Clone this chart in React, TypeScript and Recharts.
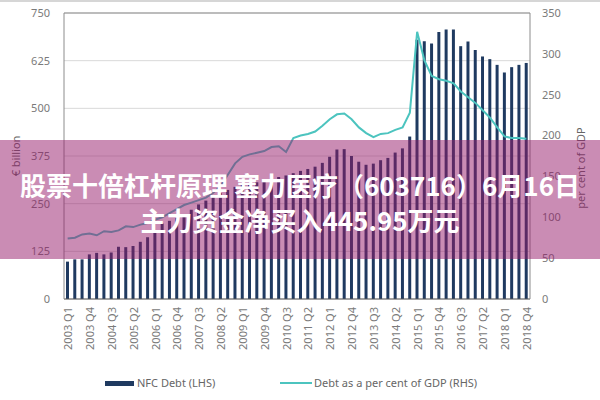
import React from 'react'
import {
  ComposedChart, Bar, Line, XAxis, YAxis, CartesianGrid, ReferenceLine
} from 'recharts'

// 2003 Q1 .. 2018 Q4
const quarters = [
  '2003 Q1', '2003 Q2', '2003 Q3', '2003 Q4',
  '2004 Q1', '2004 Q2', '2004 Q3', '2004 Q4',
  '2005 Q1', '2005 Q2', '2005 Q3', '2005 Q4',
  '2006 Q1', '2006 Q2', '2006 Q3', '2006 Q4',
  '2007 Q1', '2007 Q2', '2007 Q3', '2007 Q4',
  '2008 Q1', '2008 Q2', '2008 Q3', '2008 Q4',
  '2009 Q1', '2009 Q2', '2009 Q3', '2009 Q4',
  '2010 Q1', '2010 Q2', '2010 Q3', '2010 Q4',
  '2011 Q1', '2011 Q2', '2011 Q3', '2011 Q4',
  '2012 Q1', '2012 Q2', '2012 Q3', '2012 Q4',
  '2013 Q1', '2013 Q2', '2013 Q3', '2013 Q4',
  '2014 Q1', '2014 Q2', '2014 Q3', '2014 Q4',
  '2015 Q1', '2015 Q2', '2015 Q3', '2015 Q4',
  '2016 Q1', '2016 Q2', '2016 Q3', '2016 Q4',
  '2017 Q1', '2017 Q2', '2017 Q3', '2017 Q4',
  '2018 Q1', '2018 Q2', '2018 Q3', '2018 Q4',
]

// NFC debt, € billion (LHS)
const nfcDebt = [
  98, 104, 104, 117,
  121, 117, 122, 137,
  136, 139, 150, 162,
  179, 198, 205, 212,
  222, 234, 248, 258,
  268, 278, 286, 294,
  299, 303, 306, 310,
  315, 320, 324, 330,
  336, 341, 347, 357,
  373, 392, 393, 375,
  360, 352, 355, 364,
  370, 384, 395, 426,
  680, 676, 670, 700,
  707, 707, 663, 675,
  653, 636, 629, 614,
  594, 608, 614, 619,
]

// debt as a per cent of GDP (RHS)
const debtToGdp = [
  74, 75, 79, 80,
  78, 83, 82, 84,
  89, 88, 91, 93,
  97, 100, 105, 110,
  115, 118, 121, 124,
  130, 138, 152, 166,
  174, 177, 179, 181,
  186, 187, 180, 197,
  200, 202, 205, 212,
  220, 226, 227, 220,
  210, 203, 198, 202,
  203, 207, 210, 228,
  327, 292, 273, 269,
  267, 264, 254, 247,
  240, 231, 222, 210,
  199, 197, 197, 196,
]

const leftTicks = [0, 125, 250, 375, 500, 625, 750]
const rightTicks = [0, 50, 100, 150, 200, 250, 300, 350]

const data = quarters.map((q, i) => ({ q, debt: nfcDebt[i], ratio: debtToGdp[i] }))

const NAVY = '#1f3a60'
const TEAL = '#4cc4bf'
const GREY = '#7a7a7a'
const FONT = '"Noto Sans", "Open Sans", sans-serif'

const QuarterTick = ({ x, y, payload }: { x: number; y: number; payload: { value: string } }) => (
  <text
    x={x}
    y={y}
    transform={`rotate(-90 ${x} ${y})`}
    textAnchor="end"
    dominantBaseline="central"
    fontSize={11}
    fontFamily={FONT}
    fill={GREY}
  >
    {payload.value}
  </text>
)

export default function App() {
  return (
    <div style={{ position: 'absolute', left: 0, top: 0, width: 600, height: 400, background: '#fff', overflow: 'hidden' }}>
      <div style={{ position: 'absolute', left: 0, top: 0, width: 600, height: 2, background: '#d6d6d6' }} />
      <ComposedChart width={600} height={400} data={data} margin={{ top: 13, right: 0, left: 0, bottom: 0 }}>
        <CartesianGrid yAxisId="left" vertical={false} stroke="#d9d9d9" />
        <XAxis
          dataKey="q"
          interval={2}
          height={101}
          tick={QuarterTick}
          tickLine={false}
          axisLine={{ stroke: '#595959' }}
        />
        <YAxis
          yAxisId="left"
          width={64}
          domain={[0, 750]}
          ticks={leftTicks}
          tickLine={false}
          tickMargin={8}
          axisLine={{ stroke: '#8c8c8c' }}
          tick={{ fontSize: 11, fill: GREY, fontFamily: FONT }}
        />
        <YAxis
          yAxisId="right"
          orientation="right"
          width={70}
          domain={[0, 350]}
          ticks={rightTicks}
          tickLine={false}
          tickMargin={6}
          axisLine={{ stroke: '#8c8c8c' }}
          tick={{ fontSize: 11, fill: GREY, fontFamily: FONT }}
        />
        <ReferenceLine yAxisId="left" y={750} stroke="#8c8c8c" />
        <Bar yAxisId="left" dataKey="debt" fill={NAVY} barSize={3} isAnimationActive={false} />
        <Line
          yAxisId="right"
          type="linear"
          dataKey="ratio"
          stroke={TEAL}
          strokeWidth={2}
          dot={false}
          isAnimationActive={false}
        />
      </ComposedChart>

      {/* axis titles */}
      <div style={{
        position: 'absolute', left: 15, top: 156, transform: 'translate(-50%, -50%) rotate(-90deg)',
        fontSize: 11, color: '#666', fontFamily: FONT, whiteSpace: 'nowrap'
      }}>€ billion</div>
      <div style={{
        position: 'absolute', left: 580, top: 168, transform: 'translate(-50%, -50%) rotate(-90deg)',
        fontSize: 11, color: '#666', fontFamily: FONT, whiteSpace: 'nowrap'
      }}>per cent of GDP</div>

      {/* legend */}
      <div style={{ position: 'absolute', left: 105, top: 381, width: 29, height: 5, background: NAVY }} />
      <div style={{ position: 'absolute', left: 137, top: 375, fontSize: 11, color: '#666', fontFamily: FONT, whiteSpace: 'nowrap' }}>
        NFC Debt (LHS)
      </div>
      <div style={{ position: 'absolute', left: 280, top: 382, width: 32, height: 2, background: TEAL }} />
      <div style={{ position: 'absolute', left: 314, top: 375, fontSize: 11, color: '#666', fontFamily: FONT, whiteSpace: 'nowrap' }}>
        Debt as a per cent of GDP (RHS)
      </div>

      {/* title band */}
      <div style={{
        position: 'absolute', left: 0, top: 140, width: 600, height: 119,
        background: 'rgba(150, 25, 105, 0.5)'
      }} />
      <div style={{
        position: 'absolute', left: 0, top: 167, width: 600, textAlign: 'center',
        color: '#fff', fontWeight: 700, fontSize: 26, lineHeight: '35px',
        fontFamily: '"Noto Sans CJK SC", sans-serif', whiteSpace: 'nowrap'
      }}>
        <div>股票十倍杠杆原理 塞力医疗（603716）6月16日</div>
        <div>主力资金净买入445.95万元</div>
      </div>
    </div>
  )
}
